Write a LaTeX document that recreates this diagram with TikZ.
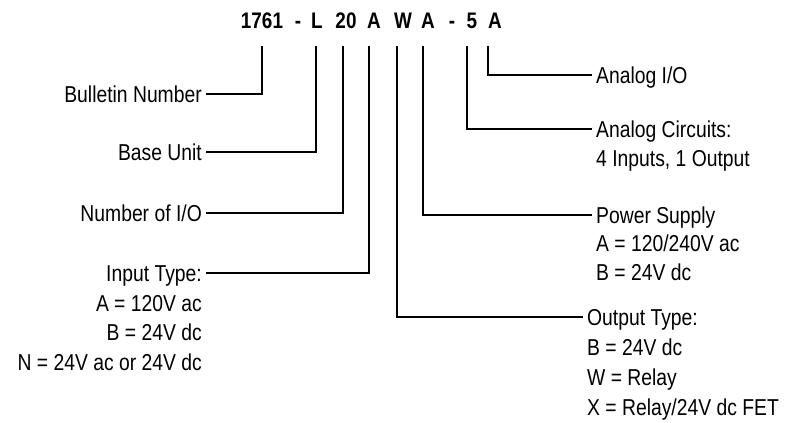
\documentclass[tikz,border=0pt]{standalone}
\usepackage{fontspec}
\setmainfont{Liberation Sans}[FakeStretch=0.84]
\begin{document}
\begin{tikzpicture}[x=1pt,y=-1pt,
  lbl/.style={font=\fontsize{23}{27}\selectfont, inner xsep=4pt, inner ysep=0pt, text height=16.4pt, text depth=0pt},
  hdr/.style={font=\fontsize{22.5}{26}\selectfont\bfseries, inner sep=0pt, anchor=base},
  conn/.style={line width=2.5pt, line join=miter}]
\useasboundingbox (0,0) rectangle (790,423);
% header
\node[hdr] (h1761) at (262,28) {1761};
\node[hdr] (hd1) at (298,28) {-};
\node[hdr] (hL) at (317,28) {L};
\node[hdr] (h20) at (346,28) {20};
\node[hdr] (hA1) at (374,28) {A};
\node[hdr] (hW) at (403,28) {W};
\node[hdr] (hA2) at (428,28) {A};
\node[hdr] (hd2) at (452,28) {-};
\node[hdr] (h5) at (472,28) {5};
\node[hdr] (hA3) at (495,28) {A};
% tick tops
\coordinate (kBull) at (262,46);
\coordinate (kBase) at (316,46);
\coordinate (kNum) at (343,46);
\coordinate (kIn) at (369,46);
\coordinate (kOut) at (397,46);
\coordinate (kPow) at (423,46);
\coordinate (kAc) at (467,46);
\coordinate (kAio) at (488,46);
% left labels
\node[lbl, anchor=east] (bull) at (206,94) {Bulletin Number};
\node[lbl, anchor=east] (base) at (206,152) {Base Unit};
\node[lbl, anchor=east] (num) at (206,213) {Number of I/O};
\node[lbl, anchor=east] (in1) at (206,273) {Input Type:};
\node[lbl, anchor=base east] (in2) at ([yshift=-30pt]in1.base east) {A = 120V ac};
\node[lbl, anchor=base east] (in3) at ([yshift=-29.5pt]in2.base east) {B = 24V dc};
\node[lbl, anchor=base east] (in4) at ([yshift=-29.5pt]in3.base east) {N = 24V ac or 24V dc};
% right labels
\node[lbl, anchor=west] (aio) at (592,75) {Analog I/O};
\node[lbl, anchor=west] (ac1) at (592,129) {Analog Circuits:};
\node[lbl, anchor=base west] (ac2) at ([yshift=-29pt]ac1.base west) {4 Inputs, 1 Output};
\node[lbl, anchor=west] (ps1) at (592,215) {Power Supply};
\node[lbl, anchor=base west] (ps2) at ([yshift=-28.5pt]ps1.base west) {A = 120/240V ac};
\node[lbl, anchor=base west] (ps3) at ([yshift=-28.5pt]ps2.base west) {B = 24V dc};
\node[lbl, anchor=west] (ot1) at (583,317) {Output Type:};
\node[lbl, anchor=base west] (ot2) at ([yshift=-30pt]ot1.base west) {B = 24V dc};
\node[lbl, anchor=base west] (ot3) at ([yshift=-30pt]ot2.base west) {W = Relay};
\node[lbl, anchor=base west] (ot4) at ([yshift=-30pt]ot3.base west) {X = Relay/24V dc FET};
% connectors
\draw[conn] (kBull) |- (bull.east);
\draw[conn] (kBase) |- (base.east);
\draw[conn] (kNum) |- (num.east);
\draw[conn] (kIn) |- (in1.east);
\draw[conn] (kOut) |- (ot1.west);
\draw[conn] (kPow) |- (ps1.west);
\draw[conn] (kAc) |- (ac1.west);
\draw[conn] (kAio) |- (aio.west);
\end{tikzpicture}
\end{document}
